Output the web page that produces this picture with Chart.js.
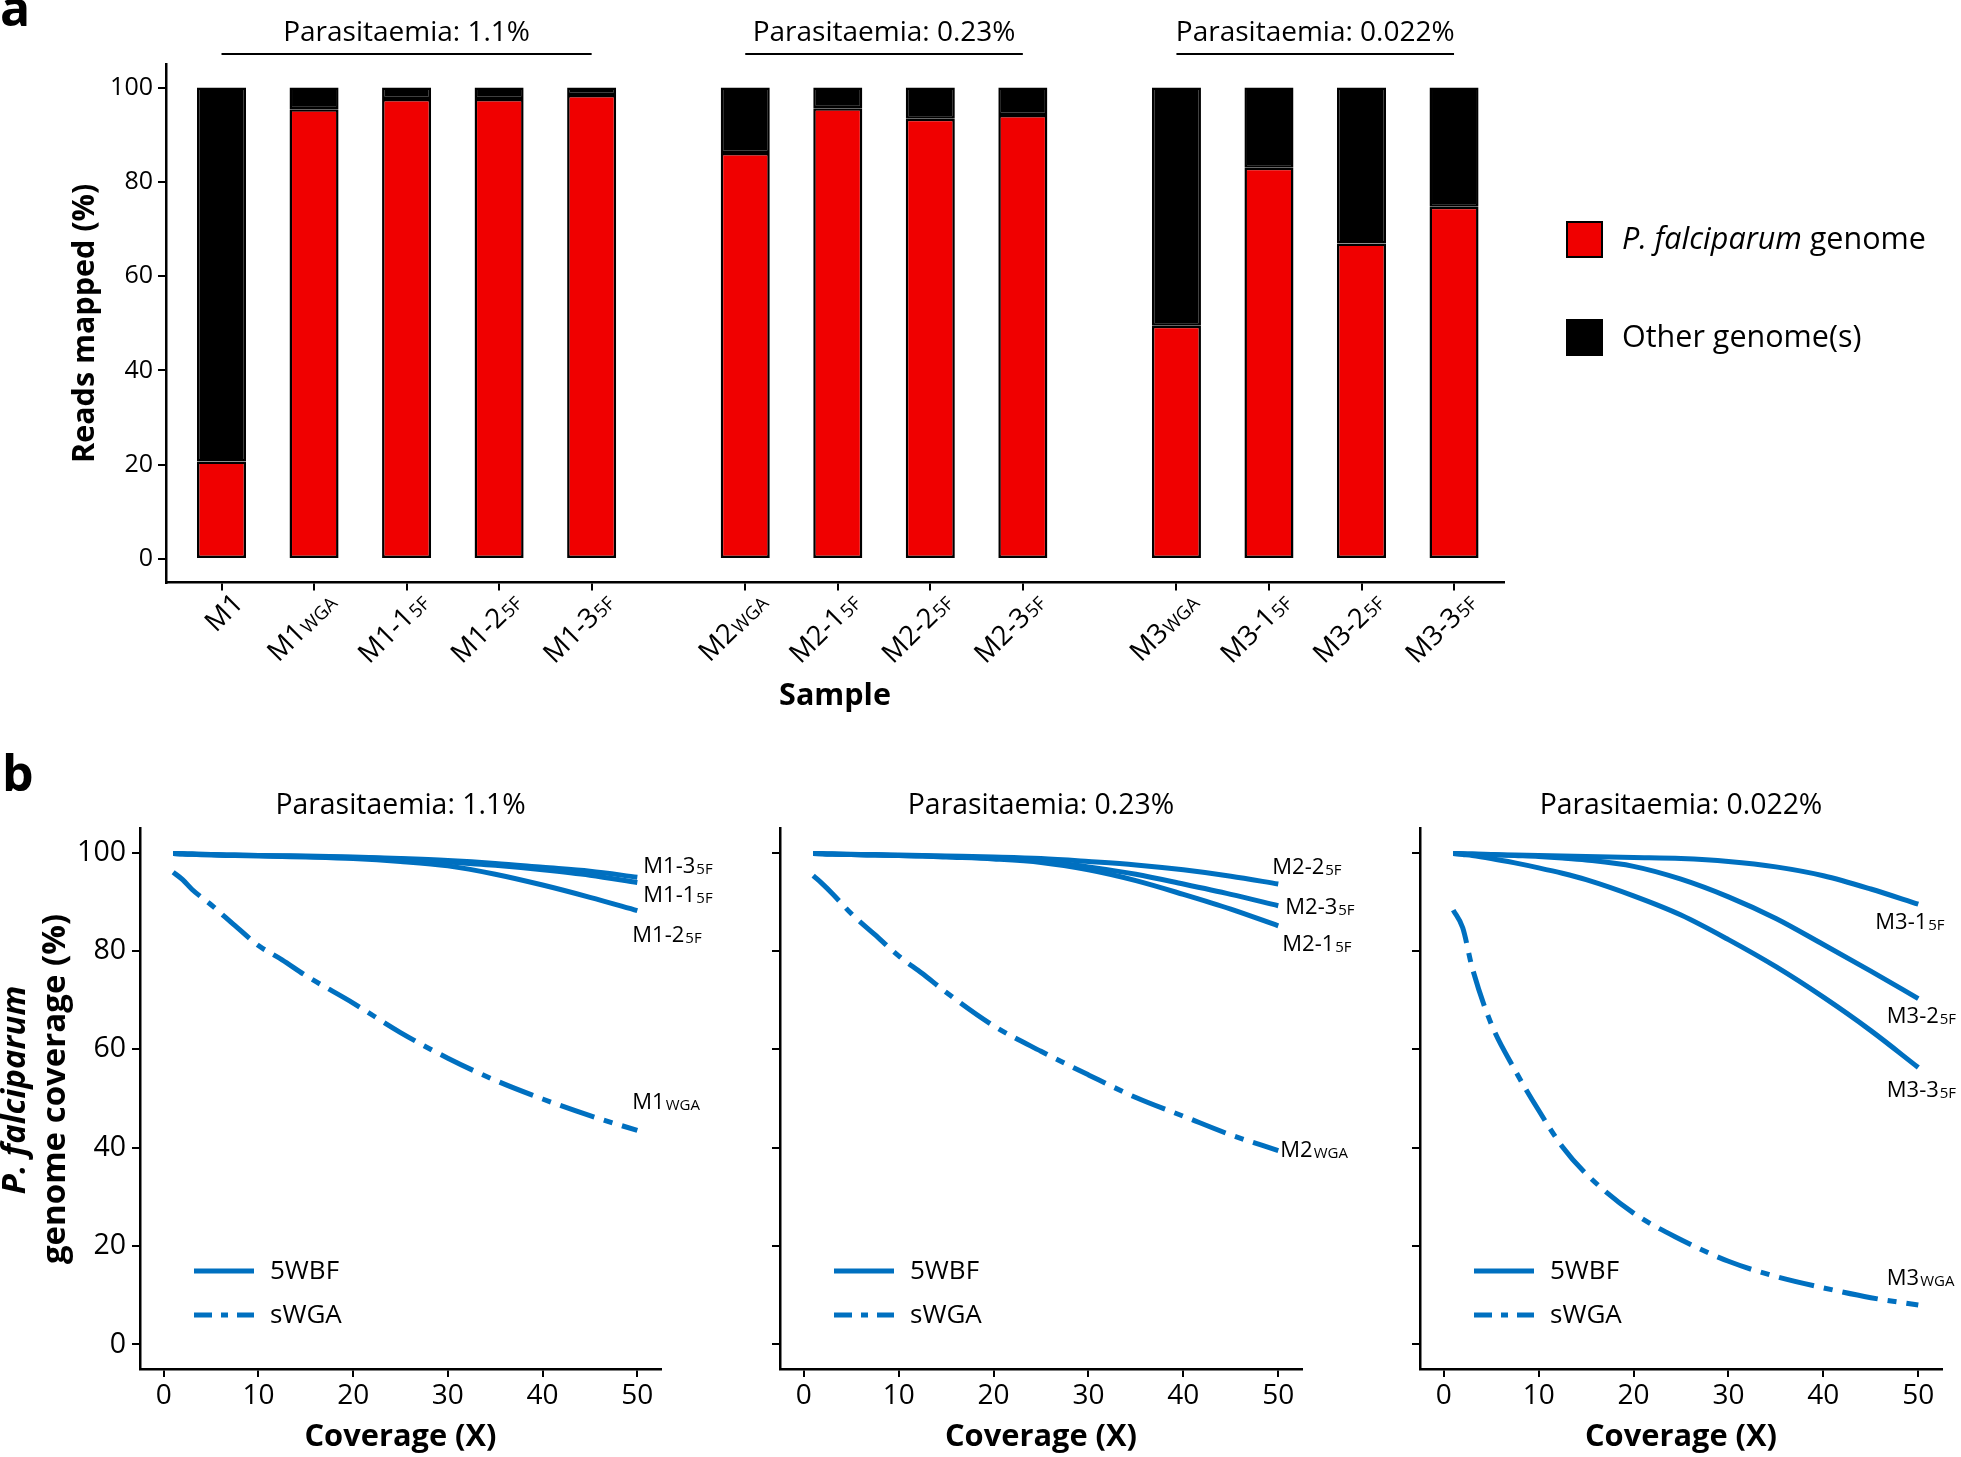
<!DOCTYPE html>
<html>
<head>
<meta charset="utf-8">
<title>Reads mapped and genome coverage</title>
<script src="https://cdn.jsdelivr.net/npm/chart.js@4.4.1/dist/chart.umd.min.js"></script>
<style>
  html, body { margin: 0; padding: 0; background: #fff; }
  #page { position: relative; width: 1961px; height: 1457px; overflow: hidden; background: #fff; }
  #page canvas { position: absolute; }
</style>
</head>
<body>
<div id="page">
  <canvas id="chart-a"  width="1961" height="740" style="left:0px;top:0px"></canvas>
  <canvas id="chart-b1" width="720"  height="717" style="left:0px;top:740px"></canvas>
  <canvas id="chart-b2" width="660"  height="717" style="left:720px;top:740px"></canvas>
  <canvas id="chart-b3" width="601"  height="717" style="left:1360px;top:740px"></canvas>
</div>

<script>
/* ═══════════════════════════════════════════════════════════
   data
   ═══════════════════════════════════════════════════════════ */

/* panel a : reads mapped (%) per sample ("_" marks the subscript) */
var sampleNames = ['M1', 'M1_WGA', 'M1-1_5F', 'M1-2_5F', 'M1-3_5F',
                   'M2_WGA', 'M2-1_5F', 'M2-2_5F', 'M2-3_5F',
                   'M3_WGA', 'M3-1_5F', 'M3-2_5F', 'M3-3_5F'];
var sampleGroup = [0, 0, 0, 0, 0, 1, 1, 1, 1, 2, 2, 2, 2];
var groupTitles = ['Parasitaemia: 1.1%', 'Parasitaemia: 0.23%', 'Parasitaemia: 0.022%'];
var pfReads     = [20.7, 95.4, 97.6, 97.6, 98.4, 86.1, 95.6, 93.4, 94.2, 49.5, 83.0, 66.9, 74.7];
var otherReads  = [79.3,  4.6,  2.4,  2.4,  1.6, 13.9,  4.4,  6.6,  5.8, 50.5, 17.0, 33.1, 25.3];
var readTicks   = [0, 20, 40, 60, 80, 100];

/* panel b : genome coverage (%) against coverage depth (X) */
var coverageX     = [1, 2, 3, 5, 7.5, 10, 12.5, 15, 20, 25, 30, 35, 40, 45, 50];
var coverageTicks = [0, 10, 20, 30, 40, 50];

var covM1_3  = [99.8, 99.75, 99.7, 99.6, 99.5, 99.4, 99.35, 99.3, 99.1, 98.8, 98.4, 97.8, 97.0, 96.2, 95.0];
var covM1_1  = [99.8, 99.75, 99.7, 99.6, 99.5, 99.4, 99.3, 99.2, 99.0, 98.7, 98.1, 97.4, 96.5, 95.4, 93.9];
var covM1_2  = [99.8, 99.7, 99.65, 99.5, 99.4, 99.3, 99.2, 99.1, 98.8, 98.2, 97.3, 95.6, 93.4, 90.9, 88.2];
var covM1wga = [96.0, 94.5, 92.5, 89.4, 85.2, 81.1, 78.2, 75.0, 69.4, 63.4, 58.2, 53.7, 49.9, 46.5, 43.5];

var covM2_2  = [99.8, 99.75, 99.7, 99.65, 99.6, 99.5, 99.4, 99.3, 99.1, 98.8, 98.2, 97.5, 96.5, 95.2, 93.6];
var covM2_3  = [99.8, 99.75, 99.7, 99.6, 99.5, 99.4, 99.3, 99.2, 98.9, 98.3, 97.1, 95.6, 93.6, 91.5, 89.2];
var covM2_1  = [99.8, 99.75, 99.7, 99.6, 99.5, 99.4, 99.3, 99.1, 98.7, 98.0, 96.5, 94.3, 91.5, 88.5, 85.1];
var covM2wga = [95.3, 93.6, 91.7, 87.6, 83.3, 79.0, 75.4, 71.6, 64.8, 59.6, 54.8, 50.2, 46.4, 42.6, 39.4];

var covM3_1  = [99.8, 99.75, 99.7, 99.6, 99.5, 99.4, 99.3, 99.2, 99.0, 98.8, 98.2, 97.1, 95.3, 92.6, 89.5];
var covM3_2  = [99.8, 99.75, 99.7, 99.6, 99.4, 99.2, 98.9, 98.5, 97.2, 94.6, 91.0, 86.6, 81.3, 75.9, 70.3];
var covM3_3  = [99.8, 99.6, 99.4, 98.8, 97.9, 96.9, 95.8, 94.5, 91.2, 87.3, 82.3, 76.8, 70.6, 63.8, 56.3];
var covM3wga = [88.3, 84.7, 76.6, 65.2, 55.8, 47.6, 40.2, 34.7, 26.7, 21.3, 16.9, 13.8, 11.5, 9.5, 8.0];

/* ═══════════════════════════════════════════════════════════
   styling
   ═══════════════════════════════════════════════════════════ */

var FONT      = "'Open Sans', sans-serif";
var RED       = '#f00000';
var BLUE      = '#0070c0';
var GROUP_GAP = 0.66;               /* extra space between parasitaemia groups */
var WGA_DASH  = [36, 10, 9, 10];

Chart.defaults.font.family = FONT;
Chart.defaults.color = '#000';

var samplePos = sampleNames.map(function(n, i) { return i + 1 + sampleGroup[i] * GROUP_GAP; });

function font(size, style) { return (style ? style + ' ' : '') + size + 'px ' + FONT; }

/* text with a smaller subscript part, (x, y) = vertical middle of the caps */
function drawRich(ctx, base, sub, x, y, size, subSize, align) {
  ctx.font = font(size);
  var wb = ctx.measureText(base).width;
  ctx.font = font(subSize);
  var ws = sub ? ctx.measureText(sub).width : 0;
  var x0 = align === 'right' ? x - wb - ws : x;
  var yb = y + size * 0.36;
  ctx.fillStyle = '#000';
  ctx.textAlign = 'left';
  ctx.textBaseline = 'alphabetic';
  ctx.font = font(size);
  ctx.fillText(base, x0, yb);
  if (sub) {
    ctx.font = font(subSize);
    ctx.fillText(sub, x0 + wb + 1, yb + 1);
  }
}

function axisGrid() {
  return { drawOnChartArea: false, drawTicks: true, tickLength: 8, color: '#000', lineWidth: 2, offset: false };
}
function axisBorder() {
  return { display: true, color: '#000', width: 2.5 };
}

/* ═══════════════════════════════════════════════════════════
   panel a — stacked bars
   ═══════════════════════════════════════════════════════════ */

var panelAPlugin = {
  id: 'panelA',
  afterDraw: function(chart) {
    var ctx = chart.ctx, xs = chart.scales.x, area = chart.chartArea;
    ctx.save();

    /* panel letter */
    ctx.fillStyle = '#000';
    ctx.textAlign = 'left';
    ctx.textBaseline = 'alphabetic';
    ctx.font = font(50, 'bold');
    ctx.fillText('a', 0, 26);

    /* group titles with underline from first to last bar */
    groupTitles.forEach(function(t, g) {
      var pos = samplePos.filter(function(p, i) { return sampleGroup[i] === g; });
      var x1 = xs.getPixelForValue(pos[0]);
      var x2 = xs.getPixelForValue(pos[pos.length - 1]);
      ctx.strokeStyle = '#000';
      ctx.lineWidth = 2;
      ctx.beginPath();
      ctx.moveTo(x1, 54);
      ctx.lineTo(x2, 54);
      ctx.stroke();
      ctx.font = font(28);
      ctx.textAlign = 'center';
      ctx.textBaseline = 'middle';
      ctx.fillText(t, (x1 + x2) / 2, 33);
    });

    /* rotated sample labels */
    sampleNames.forEach(function(name, i) {
      var parts = name.split('_');
      var px = xs.getPixelForValue(samplePos[i]);
      ctx.save();
      ctx.translate(px + 16, area.bottom + 15);
      ctx.rotate(-Math.PI / 4);
      drawRich(ctx, parts[0], parts[1] || '', 0, 0, 27.5, 18.5, 'right');
      ctx.restore();
    });

    /* legend */
    var lx = area.right + 63;
    [[RED, 222, 'P. falciparum', ' genome'], ['#000', 320, 'Other genome(s)', '']].forEach(function(it) {
      ctx.fillStyle = it[0];
      ctx.fillRect(lx, it[1], 35, 35);
      ctx.strokeStyle = '#000';
      ctx.lineWidth = 2;
      ctx.strokeRect(lx, it[1], 35, 35);
      ctx.fillStyle = '#000';
      ctx.textAlign = 'left';
      ctx.textBaseline = 'middle';
      var tx = lx + 55;
      if (it[3]) {
        ctx.font = font(30.5, 'italic');
        ctx.fillText(it[2], tx, it[1] + 18);
        tx += ctx.measureText(it[2]).width;
        ctx.font = font(30.5);
        ctx.fillText(it[3], tx, it[1] + 18);
      } else {
        ctx.font = font(30.5);
        ctx.fillText(it[2], tx, it[1] + 18);
      }
    });
    ctx.restore();
  }
};

function barDataset(label, values, color) {
  return {
    label: label,
    data: samplePos.map(function(x, i) { return { x: x, y: values[i] }; }),
    backgroundColor: color,
    borderColor: '#000',
    borderWidth: 2.5,
    borderSkipped: false,
    stack: 'reads',
    barPercentage: 0.53,
    categoryPercentage: 1
  };
}

function drawPanelA() {
  var el = document.getElementById('chart-a');
  new Chart(el, {
    type: 'bar',
    data: {
      datasets: [
        barDataset('P. falciparum genome', pfReads, RED),
        barDataset('Other genome(s)', otherReads, '#000')
      ]
    },
    options: {
      responsive: false,
      animation: false,
      layout: { padding: { left: 0, top: 64, right: 457, bottom: 0 } },
      plugins: { legend: { display: false }, tooltip: { enabled: false } },
      scales: {
        x: {
          type: 'linear',
          offset: false,
          min: 0.4,
          max: 14.86,
          afterBuildTicks: function(s) { s.ticks = samplePos.map(function(v) { return { value: v }; }); },
          afterFit: function(s) { s.height = 157.4; },
          grid: axisGrid(),
          border: axisBorder(),
          ticks: { display: false, autoSkip: false },
          title: { display: true, text: 'Sample', font: { size: 30.5, weight: 'bold' }, padding: { top: 0, bottom: 25.7 } }
        },
        y: {
          stacked: true,
          min: -5,
          max: 105,
          afterBuildTicks: function(s) { s.ticks = readTicks.map(function(v) { return { value: v }; }); },
          afterFit: function(s) { s.width = 166; },
          grid: axisGrid(),
          border: axisBorder(),
          ticks: { font: { size: 25 }, padding: 5, color: '#000' },
          title: { display: true, text: 'Reads mapped (%)', font: { size: 30.5, weight: 'bold' }, padding: { top: 66.7, bottom: 0 } }
        }
      }
    },
    plugins: [panelAPlugin]
  });
}

/* ═══════════════════════════════════════════════════════════
   panel b — coverage curves
   ═══════════════════════════════════════════════════════════ */

var panelsB = [
  {
    el: 'chart-b1', title: groupTitles[0], yWidth: 140, padRight: 59, showYLabels: true,
    series: [
      { name: 'M1-3_5F', values: covM1_3,  off: [6, -12.6] },
      { name: 'M1-1_5F', values: covM1_1,  off: [6, 11] },
      { name: 'M1-2_5F', values: covM1_2,  off: [-5, 23] },
      { name: 'M1_WGA',  values: covM1wga, off: [-5, -29] }
    ]
  },
  {
    el: 'chart-b2', title: groupTitles[1], yWidth: 60, padRight: 78, showYLabels: false,
    series: [
      { name: 'M2-2_5F', values: covM2_2,  off: [-6, -18] },
      { name: 'M2-3_5F', values: covM2_3,  off: [7, 0] },
      { name: 'M2-1_5F', values: covM2_1,  off: [4, 17] },
      { name: 'M2_WGA',  values: covM2wga, off: [2, -2] }
    ]
  },
  {
    el: 'chart-b3', title: groupTitles[2], yWidth: 60, padRight: 19, showYLabels: false,
    series: [
      { name: 'M3-1_5F', values: covM3_1,  off: [-43, 17] },
      { name: 'M3-2_5F', values: covM3_2,  off: [-31.5, 16] },
      { name: 'M3-3_5F', values: covM3_3,  off: [-31.5, 22] },
      { name: 'M3_WGA',  values: covM3wga, off: [-31.5, -28] }
    ]
  }
];

function isWga(name) { return name.indexOf('WGA') >= 0; }

function makePanelBPlugin(p) {
  return {
    id: 'panelB',
    afterDraw: function(chart) {
      var ctx = chart.ctx, area = chart.chartArea;
      var xs = chart.scales.x, ys = chart.scales.y;
      ctx.save();

      /* title */
      ctx.fillStyle = '#000';
      ctx.font = font(28.4);
      ctx.textAlign = 'center';
      ctx.textBaseline = 'middle';
      ctx.fillText(p.title, (area.left + area.right) / 2, 66);

      /* end-of-line labels */
      p.series.forEach(function(s) {
        var last = s.values.length - 1;
        var px = xs.getPixelForValue(coverageX[last]);
        var py = ys.getPixelForValue(s.values[last]);
        var parts = s.name.split('_');
        drawRich(ctx, parts[0], parts[1], px + s.off[0], py + s.off[1], 22, 15, 'left');
      });

      /* legend */
      var kx = area.left + 54;
      [['5WBF', area.bottom - 98, []], ['sWGA', area.bottom - 54, [18, 9, 7, 9]]].forEach(function(it) {
        ctx.strokeStyle = BLUE;
        ctx.lineWidth = 5;
        ctx.lineCap = 'butt';
        ctx.setLineDash(it[2]);
        ctx.beginPath();
        ctx.moveTo(kx, it[1]);
        ctx.lineTo(kx + 60, it[1]);
        ctx.stroke();
        ctx.setLineDash([]);
        ctx.fillStyle = '#000';
        ctx.font = font(26);
        ctx.textAlign = 'left';
        ctx.textBaseline = 'middle';
        ctx.fillText(it[0], kx + 76, it[1] + 1);
      });

      /* panel letter and two-line y title on the first panel */
      if (p.showYLabels) {
        ctx.textAlign = 'left';
        ctx.textBaseline = 'alphabetic';
        ctx.font = font(50, 'bold');
        ctx.fillText('b', 2, 51);

        ctx.textAlign = 'center';
        ctx.textBaseline = 'middle';
        ctx.save();
        ctx.translate(16, 350);
        ctx.rotate(-Math.PI / 2);
        ctx.font = font(33, 'italic bold');
        ctx.fillText('P. falciparum', 0, 0);
        ctx.restore();
        ctx.save();
        ctx.translate(56, 349);
        ctx.rotate(-Math.PI / 2);
        ctx.font = font(33, 'bold');
        ctx.fillText('genome coverage (%)', 0, 0);
        ctx.restore();
      }
      ctx.restore();
    }
  };
}

function drawPanelB(p) {
  var el = document.getElementById(p.el);
  new Chart(el, {
    type: 'line',
    data: {
      datasets: p.series.map(function(s) {
        return {
          label: s.name,
          data: coverageX.map(function(x, i) { return { x: x, y: s.values[i] }; }),
          borderColor: BLUE,
          borderWidth: 5,
          borderDash: isWga(s.name) ? WGA_DASH : [],
          borderCapStyle: 'butt',
          cubicInterpolationMode: 'monotone',
          pointRadius: 0,
          fill: false
        };
      })
    },
    options: {
      responsive: false,
      animation: false,
      layout: { padding: { left: 0, top: 88, right: p.padRight, bottom: 0 } },
      plugins: { legend: { display: false }, tooltip: { enabled: false } },
      scales: {
        x: {
          type: 'linear',
          offset: false,
          min: -2.5,
          max: 52.5,
          afterBuildTicks: function(s) { s.ticks = coverageTicks.map(function(v) { return { value: v }; }); },
          afterFit: function(s) { s.height = 88; },
          grid: axisGrid(),
          border: axisBorder(),
          ticks: { font: { size: 28 }, padding: 2, color: '#000', maxRotation: 0, autoSkip: false },
          title: { display: true, text: 'Coverage (X)', font: { size: 30.8, weight: 'bold' }, padding: { top: 0, bottom: 1.5 } }
        },
        y: {
          type: 'linear',
          min: -5,
          max: 105,
          afterBuildTicks: function(s) { s.ticks = readTicks.map(function(v) { return { value: v }; }); },
          afterFit: function(s) { s.width = p.yWidth; },
          grid: axisGrid(),
          border: axisBorder(),
          ticks: { display: p.showYLabels, font: { size: 28.5 }, padding: 6, color: '#000' }
        }
      }
    },
    plugins: [makePanelBPlugin(p)]
  });
}

drawPanelA();
panelsB.forEach(drawPanelB);
</script>
</body>
</html>
